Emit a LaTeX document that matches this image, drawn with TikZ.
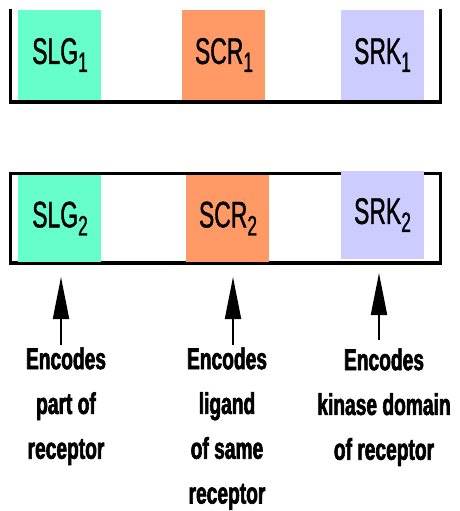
\documentclass[tikz,border=0pt]{standalone}
\usepackage{fontspec}
\newfontfamily\genefont[FakeStretch=0.62,FakeBold=1]{Liberation Sans}
\newfontfamily\notefont[FakeStretch=0.64,FakeBold=2]{Liberation Sans}
\usetikzlibrary{arrows.meta}
\newcommand\gsub[1]{\raisebox{-4pt}{\fontsize{14}{14}\selectfont #1}}
\definecolor{slgcol}{HTML}{66FFCC}
\definecolor{scrcol}{HTML}{FF9966}
\definecolor{srkcol}{HTML}{CCCCFF}
\begin{document}
\begin{tikzpicture}[x=0.5pt,y=-0.5pt,
  gene/.style={inner sep=0,minimum width=41.5pt,minimum height=45pt,
    font=\genefont\fontsize{18.5}{20}\selectfont},
  note/.style={align=center,anchor=north,inner sep=0,
    font=\notefont\bfseries\fontsize{15}{22.4}\selectfont},
  frame/.style={line width=1.8pt},
  arr/.style={line width=1pt,-{Triangle[length=21pt,width=8pt]}}]
\useasboundingbox (0,0) rectangle (460,511);
% chromosome frames
\draw[frame] (10.5,9) -- (10.5,102) -- (440.5,102) -- (440.5,9);
\draw[frame] (10.5,173.5) rectangle (440.5,263);
% first haplotype
\node[gene,fill=slgcol] (slg1) at (60,55) {SLG\gsub{1}};
\node[gene,fill=scrcol] (scr1) at (224,55) {SCR\gsub{1}};
\node[gene,fill=srkcol] (srk1) at (382.5,55) {SRK\gsub{1}};
% second haplotype
\node[gene,fill=slgcol,minimum height=43.5pt] (slg2) at (60,218.5) {SLG\gsub{2}};
\node[gene,fill=scrcol,minimum height=43.5pt] (scr2) at (228,218.5) {SCR\gsub{2}};
\node[gene,fill=srkcol,minimum height=44pt] (srk2) at (382.5,215) {SRK\gsub{2}};
% notes
\node[note] (n1) at (66,347) {Encodes\\part of\\receptor};
\node[note] (n2) at (227,347) {Encodes\\ligand\\of same\\receptor};
\node[note] (n3) at (384,348) {Encodes\\kinase domain\\of receptor};
\coordinate (t1) at (61,277);
\coordinate (t2) at (233,277);
\coordinate (t3) at (379,273);
\draw[arr] (t1 |- 0,345) -- (t1);
\draw[arr] (t2 |- 0,345) -- (t2);
\draw[arr] (t3 |- 0,340) -- (t3);
\end{tikzpicture}
\end{document}
